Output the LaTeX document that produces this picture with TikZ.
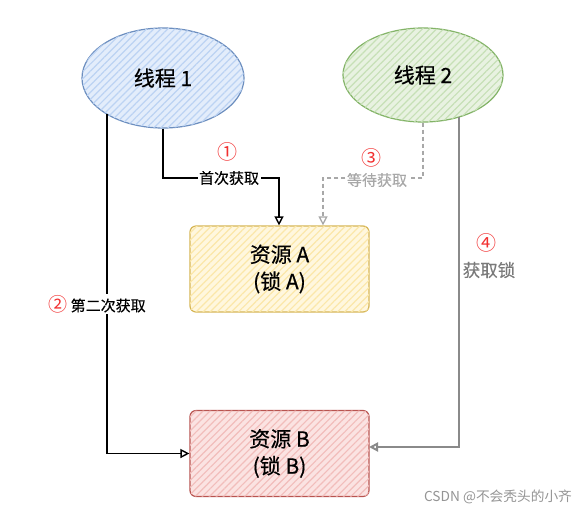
\documentclass[tikz,border=0pt]{standalone}
\usepackage{fontspec}
\setmainfont{Noto Sans CJK SC}
\newfontfamily\heavyfont{Noto Sans CJK SC}[FakeBold=0.5]
\newfontfamily\semifont{Noto Sans CJK SC}[FakeBold=0.25]
\usetikzlibrary{shapes.geometric,arrows.meta,patterns.meta}
\definecolor{bluestroke}{HTML}{6C8EBF}
\definecolor{bluefill}{HTML}{E3EDFB}
\definecolor{bluehatch}{HTML}{BCD3F3}
\definecolor{greenstroke}{HTML}{82B366}
\definecolor{greenfill}{HTML}{E8F2E1}
\definecolor{greenhatch}{HTML}{C6E0B6}
\definecolor{yellowstroke}{HTML}{D6B656}
\definecolor{yellowfill}{HTML}{FFF7DE}
\definecolor{yellowhatch}{HTML}{FBE7A9}
\definecolor{redstroke}{HTML}{B85450}
\definecolor{redfill}{HTML}{FBE3E2}
\definecolor{redhatch}{HTML}{F2BDBB}
\definecolor{numred}{HTML}{F23030}
\definecolor{grayline}{HTML}{8A8A8A}
\definecolor{dashgray}{HTML}{A8A8A8}
\definecolor{graytext}{HTML}{7A7A7A}
\begin{document}
\begin{tikzpicture}[x=1pt,y=-1pt,
  thread/.style={ellipse,draw,line width=1.2pt,minimum width=162pt,minimum height=100pt,inner sep=0pt,font=\heavyfont\fontsize{21}{24}\selectfont},
  resbox/.style={rectangle,rounded corners=6pt,draw,line width=1.2pt,minimum width=179pt,minimum height=86pt,align=center,font=\heavyfont\fontsize{21}{27}\selectfont},
  conn/.style={line width=1.4pt,-{Triangle[open,length=9pt,width=9pt]}},
  lbl/.style={fill=white,inner sep=1.5pt,font=\semifont\fontsize{15}{17}\selectfont},
  num/.style={text=numred,inner sep=0pt,font=\fontsize{20}{22}\selectfont}]
\useasboundingbox (0,0) rectangle (588,515);
\fill[white] (0,0) rectangle (588,515);
% nodes
\node[thread,draw=bluestroke,fill=bluefill,postaction={pattern={Lines[angle=45,distance=5pt,line width=1.2pt]},pattern color=bluehatch}] (t1) at (163,78) {线程 1};
\node[thread,draw=greenstroke,fill=greenfill,minimum width=160pt,minimum height=94pt,postaction={pattern={Lines[angle=45,distance=5pt,line width=1.2pt]},pattern color=greenhatch}] (t2) at (423,75) {线程 2};
\node[resbox,draw=yellowstroke,fill=yellowfill,postaction={pattern={Lines[angle=45,distance=5pt,line width=1.2pt]},pattern color=yellowhatch}] (ra) at (279.5,269) {资源 A\\(锁 A)};
\node[resbox,draw=redstroke,fill=redfill,postaction={pattern={Lines[angle=45,distance=5pt,line width=1.2pt]},pattern color=redhatch}] (rb) at (279.5,453.5) {资源 B\\(锁 B)};
% connector coordinates
\coordinate (s2) at (107,114);
\coordinate (s4) at (459,117);
\coordinate (k1) at (279,178);
\coordinate (k3) at (323,178);
\coordinate (e4) at (369,447);
% arrow 1
\draw[conn] (t1.south) |- (k1) -- (ra.north -| k1);
\node[lbl] (l1) at (229,178) {首次获取};
\node[num] (n1) at (227,152) {①};
% arrow 2
\draw[conn] (s2) |- (rb.west);
\node[lbl] (l2) at (97,304) {\textcolor{numred}{\normalfont\fontsize{19}{20}\selectfont ②} 第二次获取};
% arrow 3
\draw[conn,dashgray,line width=1.3pt,dash pattern=on 4pt off 3pt] (t2.south) |- (k3) -- (ra.north -| k3);
\node[lbl,text=dashgray] (l3) at (377,180) {等待获取};
\node[num] (n3) at (371,158) {③};
% arrow 4
\draw[conn,grayline,line width=2pt] (s4) |- (e4);
\node[num] (n4) at (486,243) {④};
\node[lbl,text=graytext,fill=none,font=\semifont\fontsize{17.5}{19}\selectfont] (l4) at (489,270) {获取锁};
% watermark
\node[text=graytext!80,font=\fontsize{13.7}{15}\selectfont] (wm) at (498,497) {CSDN @不会秃头的小齐};
\end{tikzpicture}
\end{document}
